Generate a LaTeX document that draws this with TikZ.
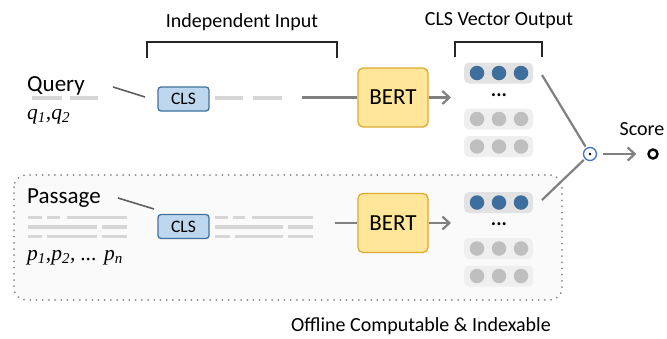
\documentclass[tikz,border=0pt]{standalone}
\usepackage{fontspec}
\setmainfont{Carlito}
\newfontfamily\tokfont{Liberation Serif}
\usetikzlibrary{arrows.meta}

\definecolor{clsfill}{HTML}{BDD7EE}
\definecolor{clsedge}{HTML}{41719C}
\definecolor{bertfill}{HTML}{FFE699}
\definecolor{bertedge}{HTML}{DDAA33}
\definecolor{vecblue}{HTML}{3E6E9E}
\definecolor{vecgray}{HTML}{BFBFBF}
\definecolor{rowtop}{HTML}{E2E2E2}
\definecolor{rowgray}{HTML}{EFEFEF}
\definecolor{tokgray}{HTML}{D6D6D6}
\definecolor{linkgray}{HTML}{808080}
\definecolor{darklink}{HTML}{5F5F5F}
\definecolor{offdots}{HTML}{8A8A8A}
\definecolor{offfill}{HTML}{FAFAFA}
\definecolor{odotblue}{HTML}{4472C4}

\tikzset{
  lbl/.style={font=\fontsize{20}{20}\selectfont, inner sep=0pt},
  side/.style={font=\fontsize{23}{23}\selectfont, inner sep=0pt, anchor=base west},
  tokens/.style={font=\tokfont\itshape\fontsize{21.5}{21.5}\selectfont, inner sep=0pt, anchor=base west},
  clsbox/.style={draw=clsedge, fill=clsfill, line width=1.3pt, rounded corners=3pt,
    minimum width=51pt, minimum height=24pt, inner sep=0pt, font=\fontsize{17.5}{17.5}\selectfont},
  bertbox/.style={draw=bertedge, fill=bertfill, line width=1.3pt, rounded corners=5pt,
    minimum width=70pt, minimum height=59pt, inner sep=0pt, font=\fontsize{23}{23}\selectfont},
  toprow/.style={fill=rowtop, rounded corners=5pt, minimum width=69pt, minimum height=21pt, inner sep=0pt},
  grayrow/.style={fill=rowgray, rounded corners=5pt, minimum width=69pt, minimum height=21pt, inner sep=0pt},
  bluedot/.style={circle, fill=vecblue, minimum size=14.5pt, inner sep=0pt},
  graydot/.style={circle, fill=vecgray, minimum size=14.5pt, inner sep=0pt},
  ellip/.style={font=\bfseries\fontsize{20}{20}\selectfont, inner sep=0pt},
  tok/.style={draw=tokgray, line width=3.5pt},
  bracket/.style={draw=black!85, line width=1.5pt},
  link/.style={draw=linkgray, line width=2.2pt},
  thinlink/.style={draw=darklink, line width=1.6pt},
  arr/.style={link, -{Straight Barb[length=7pt, width=13pt]}},
  offline/.style={draw=offdots, fill=offfill, line width=2pt, line cap=round,
    dash pattern=on 0pt off 6.2pt, rounded corners=12pt},
}

\begin{document}
\begin{tikzpicture}[x=1pt, y=-1pt]
\useasboundingbox (0,0) rectangle (667,338);

% region holding the passage encoder
\draw[offline] (14,175) rectangle (562,300);
\node[lbl, anchor=base] (offlbl) at (421,331) {Offline Computable \& Indexable};

% headings and brackets
\node[lbl, anchor=base] (inlbl) at (242,27) {Independent Input};
\draw[bracket] (147,58) -- (147,42) -- (337,42) -- (337,58);
\node[lbl, anchor=base] (outlbl) at (499,25) {CLS Vector Output};
\draw[bracket] (455,57) -- (455,42) -- (542,42) -- (542,57);

% ---- query branch ----
\node[side] (query) at (27,91) {Query};
\draw[tok] (32,98) -- (62,98);
\draw[tok] (70,98) -- (98,98);
\node[tokens] (qtok) at (27,119) {q\textsubscript{1},q\textsubscript{2}};

\node[clsbox] (qcls) at (183.5,99) {CLS};
\coordinate (qa) at (113,87);
\coordinate (qb) at (145,97);
\draw[thinlink] (qa) -- (qb);
\draw[tok] (215,98) -- (243,98);
\draw[tok] (253,98) -- (282,98);

\node[bertbox] (qbert) at (393,97.5) {BERT};
\coordinate (qin) at (302,97.5);
\draw[link] (qin) -- (qbert.west);
\coordinate (qarr) at (451,97.5);
\draw[arr] (qbert.east) -- (qarr);

% ---- passage branch ----
\node[side] (passage) at (27,203) {Passage};
\draw[tok] (28,217.5) -- (42,217.5);
\draw[tok] (47,217.5) -- (60,217.5);
\draw[tok] (67,217.5) -- (127,217.5);
\draw[tok] (28,227) -- (97,227);
\draw[tok] (102,227) -- (127,227);
\draw[tok] (28,236.5) -- (42,236.5);
\draw[tok] (47,236.5) -- (97,236.5);
\draw[tok] (102,236.5) -- (127,236.5);
\node[tokens] (ptok) at (27,260) {p\textsubscript{1},p\textsubscript{2}, ... p\textsubscript{n}};

\node[clsbox] (pcls) at (183.5,226.5) {CLS};
\coordinate (pa) at (118,198);
\coordinate (pb) at (154,209);
\draw[thinlink] (pa) -- (pb);
\draw[tok] (215,217.5) -- (228,217.5);
\draw[tok] (233,217.5) -- (245,217.5);
\draw[tok] (252,217.5) -- (313,217.5);
\draw[tok] (215,227) -- (283,227);
\draw[tok] (288,227) -- (313,227);
\draw[tok] (215,236.5) -- (230,236.5);
\draw[tok] (235,236.5) -- (283,236.5);
\draw[tok] (288,236.5) -- (313,236.5);

\node[bertbox] (pbert) at (393,223) {BERT};
\coordinate (pin) at (335,223);
\draw[link] (pin) -- (pbert.west);
\coordinate (parr) at (451,223);
\draw[arr] (pbert.east) -- (parr);

% ---- CLS vector stacks ----
\foreach \s/\yy in {q/73, p/202.5} {
  \node[toprow] (\s row1) at (498.5,\yy) {};
  \node[grayrow] (\s row2) at (498.5,\yy+46) {};
  \node[grayrow] (\s row3) at (498.5,\yy+73.5) {};
  \foreach \i/\xx in {1/477, 2/499, 3/521} {
    \node[bluedot] (\s b\i) at (\xx,\yy) {};
    \node[graydot] (\s g\i) at (\xx,\yy+46) {};
    \node[graydot] (\s h\i) at (\xx,\yy+73.5) {};
  }
  \node[ellip] (\s dots) at (499,\yy+22) {...};
}

% ---- similarity and score ----
\node[circle, draw=odotblue, fill=white, line width=1.3pt, minimum size=13pt, inner sep=0pt] (dot) at (590,154) {};
\fill[black] (dot.center) circle (1.4);
\coordinate (qv) at (542,75);
\coordinate (pv) at (542,200);
\draw[link, shorten >=1.5pt] (qv) -- (dot);
\draw[link, shorten >=1.5pt] (pv) -- (dot);

\node[circle, draw=black, line width=2.4pt, minimum size=9pt, inner sep=0pt] (score) at (653,154) {};
\node[lbl, anchor=base] (scorelbl) at (642,135) {Score};
\draw[arr, shorten <=6pt, shorten >=11pt] (dot.east) -- (score.west);
\end{tikzpicture}
\end{document}
